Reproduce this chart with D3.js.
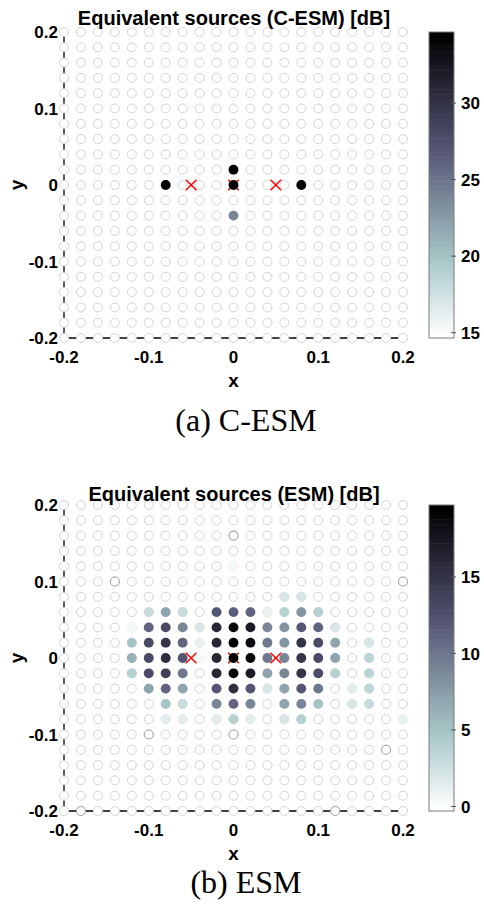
<!DOCTYPE html>
<html><head><meta charset="utf-8">
<script src="https://cdn.jsdelivr.net/npm/d3@7"></script>
<style>body{margin:0;background:#fff}svg{display:block}</style>
</head><body>
<svg id="chart" width="484" height="907"></svg>
<script>
// ---------- data ----------
const gridCoords = [-0.2,-0.18,-0.16,-0.14,-0.12,-0.1,-0.08,-0.06,-0.04,-0.02,0,0.02,0.04,0.06,0.08,0.1,0.12,0.14,0.16,0.18,0.2];
const axisTicks = [-0.2,-0.1,0,0.1,0.2];
const sourcePositions = [[-0.05,0],[0,0],[0.05,0]];

const cesmTitle = "Equivalent sources (C-ESM) [dB]";
const cesmCaption = "(a) C-ESM";
const cesmRange = [14.65, 34.65];
const cesmTicks = [15,20,25,30];
const cesmPoints = [[-0.08,0,34.6],[0.08,0,34.5],[0,0.02,34.4],[0,0,34.6],[0,-0.04,24]];
const cesmEdgePoints = [];

const esmTitle = "Equivalent sources (ESM) [dB]";
const esmCaption = "(b) ESM";
const esmRange = [-0.3, 19.7];
const esmTicks = [0,5,10,15];
const esmPoints = [
  [0,0.12,0.5],
  [0.06,0.08,2],[0.08,0.08,2],
  [-0.1,0.06,3],[-0.08,0.06,7],[-0.06,0.06,3],[-0.02,0.06,12],[0,0.06,11.5],[0.02,0.06,11],[0.04,0.06,1],[0.06,0.06,4],[0.08,0.06,8],[0.1,0.06,4],
  [-0.12,0.04,0.5],[-0.1,0.04,11],[-0.08,0.04,13],[-0.06,0.04,9],[-0.04,0.04,2],[-0.02,0.04,16],[0,0.04,19],[0.02,0.04,17],[0.04,0.04,9],[0.06,0.04,8],[0.08,0.04,12],[0.1,0.04,11],[0.12,0.04,2],
  [-0.12,0.02,5],[-0.1,0.02,13],[-0.08,0.02,15],[-0.06,0.02,11],[-0.04,0.02,1],[-0.02,0.02,16],[0,0.02,19.5],[0.02,0.02,18.5],[0.04,0.02,10],[0.06,0.02,8],[0.08,0.02,15],[0.1,0.02,13],[0.12,0.02,7],[0.16,0.02,2],
  [-0.12,0,6],[-0.1,0,13],[-0.08,0,15.5],[-0.06,0,12],[-0.04,0,0.3],[-0.02,0,16],[0,0,19.7],[0.02,0,19],[0.04,0,10],[0.06,0,9],[0.08,0,15],[0.1,0,13],[0.12,0,7],[0.16,0,3.5],
  [-0.12,-0.02,4],[-0.1,-0.02,13],[-0.08,-0.02,14],[-0.06,-0.02,10],[-0.02,-0.02,16],[0,-0.02,19],[0.02,-0.02,17],[0.04,-0.02,7],[0.06,-0.02,9],[0.08,-0.02,15],[0.1,-0.02,13],[0.12,-0.02,4],[0.16,-0.02,3.5],
  [-0.1,-0.04,7],[-0.08,-0.04,11],[-0.06,-0.04,7],[-0.02,-0.04,12],[0,-0.04,15.5],[0.02,-0.04,12],[0.04,-0.04,2],[0.06,-0.04,7],[0.08,-0.04,12],[0.1,-0.04,10],[0.14,-0.04,1.5],[0.16,-0.04,3.5],
  [-0.08,-0.06,5],[-0.06,-0.06,3],[-0.02,-0.06,9],[0,-0.06,11],[0.02,-0.06,9],[0.06,-0.06,7],[0.08,-0.06,9],[0.1,-0.06,5],[0.14,-0.06,2],[0.16,-0.06,3],
  [-0.08,-0.08,1.5],[-0.06,-0.08,1.5],[-0.02,-0.08,1.5],[0,-0.08,4],[0.02,-0.08,1.5],[0.06,-0.08,2],[0.08,-0.08,4],[0.2,-0.08,1]
];
const esmEdgePoints = [[-0.14,0.1],[0,0.16],[0.2,0.1],[-0.1,-0.1],[0,-0.1],[0.18,-0.12],[-0.18,-0.2],[0.12,-0.2]];

// ---------- colormap (reversed MATLAB bone) ----------
function bone(t){
  const c = v => Math.max(0, Math.min(1, v));
  const hr = c(t/(3/8)), hg = c((t-3/8)/(3/8)), hb = c((t-6/8)/(2/8));
  return d3.rgb(255*(7*t+hb)/8, 255*(7*t+hg)/8, 255*(7*t+hr)/8).toString();
}
const NLEV = 64;
function quantBoneRev(t){ // t in [0,1], 0 = low value (white)
  const k = Math.min(NLEV-1, Math.max(0, Math.floor(t*NLEV)));
  return bone(1 - k/(NLEV-1));
}

const svg = d3.select("#chart");
const FONT = "'Liberation Sans', Arial, Helvetica, sans-serif";

function panel(cfg){
  const g = svg.append("g").attr("transform", `translate(0,${cfg.dy})`);
  const x = d3.scaleLinear().domain([-0.2,0.2]).range([64,403]);
  const y = d3.scaleLinear().domain([-0.2,0.2]).range([338,32]);
  const color = d3.scaleSequential(quantBoneRev).domain(cfg.range).clamp(true);

  // axis lines
  g.append("line").attr("x1",x(-0.2)).attr("x2",x(-0.2)).attr("y1",y(0.2)).attr("y2",y(-0.2)).attr("stroke","#000").attr("stroke-width",1.3);
  g.append("line").attr("x1",x(-0.2)).attr("x2",x(0.2)).attr("y1",y(-0.2)).attr("y2",y(-0.2)).attr("stroke","#000").attr("stroke-width",1.3);

  // grid of open circles
  const cells = [];
  gridCoords.forEach(gx => gridCoords.forEach(gy => cells.push([gx,gy])));
  g.append("g").selectAll("circle").data(cells).join("circle")
    .attr("cx", d=>x(d[0])).attr("cy", d=>y(d[1])).attr("r",4.5)
    .attr("fill","#fff").attr("stroke","#d4d4d4").attr("stroke-width",1);
  g.append("g").selectAll("circle").data(cfg.edges).join("circle")
    .attr("cx", d=>x(d[0])).attr("cy", d=>y(d[1])).attr("r",4.5)
    .attr("fill","#fff").attr("stroke","#a8a8a8").attr("stroke-width",1.1);

  // source crosses
  const cs = 5.3;
  const cg = g.append("g").attr("stroke","#ff0000").attr("stroke-width",1.5);
  sourcePositions.forEach(p => {
    cg.append("line").attr("x1",x(p[0])-cs).attr("x2",x(p[0])+cs).attr("y1",y(p[1])-cs).attr("y2",y(p[1])+cs);
    cg.append("line").attr("x1",x(p[0])-cs).attr("x2",x(p[0])+cs).attr("y1",y(p[1])+cs).attr("y2",y(p[1])-cs);
  });

  // filled points
  g.append("g").selectAll("circle").data(cfg.points).join("circle")
    .attr("cx", d=>x(d[0])).attr("cy", d=>y(d[1])).attr("r",4.9)
    .attr("fill", d=>color(d[2]));

  // tick labels
  g.append("g").selectAll("text").data(axisTicks).join("text")
    .attr("x",58).attr("y",d=>y(d)).attr("dy","0.36em").attr("text-anchor","end")
    .attr("font-family",FONT).attr("font-weight","bold").attr("font-size",17)
    .text(d=>String(d));
  g.append("g").selectAll("text").data(axisTicks).join("text")
    .attr("x",d=>x(d)).attr("y",363).attr("text-anchor","middle")
    .attr("font-family",FONT).attr("font-weight","bold").attr("font-size",17)
    .text(d=>String(d));
  g.append("text").attr("x",x(0)).attr("y",387).attr("text-anchor","middle")
    .attr("font-family",FONT).attr("font-weight","bold").attr("font-size",19).text("x");
  g.append("text").attr("transform",`translate(23,${y(0)}) rotate(-90)`).attr("text-anchor","middle")
    .attr("font-family",FONT).attr("font-weight","bold").attr("font-size",19).text("y");
  g.append("text").attr("x",234).attr("y",cfg.titleY).attr("text-anchor","middle")
    .attr("font-family",FONT).attr("font-weight","bold").attr("font-size",20).text(cfg.title);
  g.append("text").attr("x",246).attr("y",cfg.captionY).attr("text-anchor","middle")
    .attr("font-family","'Liberation Serif','Times New Roman',serif").attr("font-size",32).text(cfg.caption);

  // colorbar
  const cb = d3.scaleLinear().domain(cfg.range).range([338,32]);
  const bands = d3.range(NLEV);
  const step = (cfg.range[1]-cfg.range[0])/NLEV;
  g.append("g").selectAll("rect").data(bands).join("rect")
    .attr("x",429).attr("width",25)
    .attr("y", k => cb(cfg.range[0]+(k+1)*step))
    .attr("height", k => cb(cfg.range[0]+k*step) - cb(cfg.range[0]+(k+1)*step) + 0.5)
    .attr("fill", k => color(cfg.range[0]+(k+0.5)*step));
  g.append("rect").attr("x",429).attr("y",32).attr("width",25).attr("height",306)
    .attr("fill","none").attr("stroke","#7a7a7a").attr("stroke-width",1);
  const tg = g.append("g").selectAll("g").data(cfg.ticks).join("g");
  tg.append("line").attr("x1",451).attr("x2",456).attr("y1",d=>cb(d)).attr("y2",d=>cb(d)).attr("stroke","#555");
  tg.append("text").attr("x",461).attr("y",d=>cb(d)).attr("dy","0.36em")
    .attr("font-family",FONT).attr("font-weight","bold").attr("font-size",17).text(d=>d);
}

panel({dy:0, titleY:25, captionY:431, title:cesmTitle, caption:cesmCaption, range:cesmRange, ticks:cesmTicks, points:cesmPoints, edges:cesmEdgePoints});
panel({dy:473, titleY:28, captionY:420, title:esmTitle, caption:esmCaption, range:esmRange, ticks:esmTicks, points:esmPoints, edges:esmEdgePoints});
</script>
</body></html>
